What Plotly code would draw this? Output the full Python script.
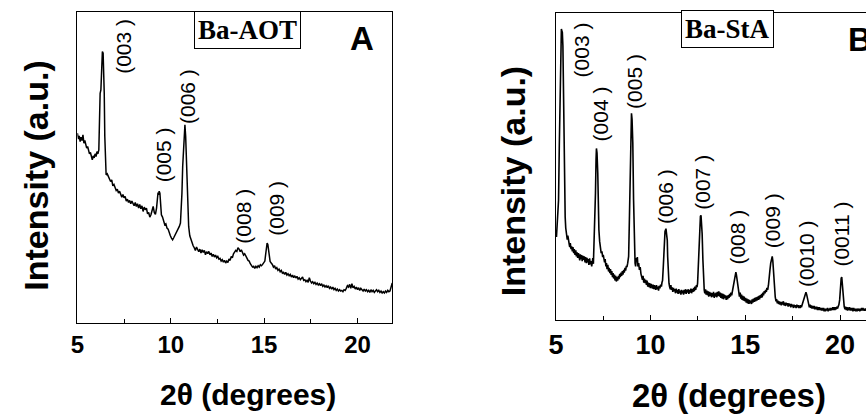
import plotly.graph_objects as go

# ---------------- Panel A: Ba-AOT (2theta, intensity a.u.) ----------------
a_points = [
    (5.00, 570), (5.06, 552), (5.10, 562), (5.15, 545), (5.20, 558), (5.25, 548), (5.30, 565),
    (5.35, 540), (5.40, 548), (5.45, 532), (5.50, 525), (5.55, 530), (5.60, 515), (5.65, 508),
    (5.70, 512), (5.75, 495), (5.80, 490), (5.85, 502), (5.90, 496), (5.95, 508), (6.00, 500),
    (6.05, 515), (6.10, 508), (6.15, 520), (6.18, 600), (6.22, 690), (6.26, 700), (6.30, 780),
    (6.34, 815), (6.38, 810), (6.41, 760), (6.44, 690), (6.47, 560), (6.50, 470), (6.54, 445),
    (6.60, 448), (6.66, 438), (6.72, 432), (6.78, 425), (6.84, 430), (6.90, 412), (6.96, 416),
    (7.02, 405), (7.08, 398), (7.14, 402), (7.20, 390), (7.26, 396), (7.32, 385), (7.38, 378),
    (7.44, 386), (7.50, 376), (7.56, 380), (7.62, 366), (7.68, 372), (7.74, 362), (7.80, 368),
    (7.86, 358), (7.92, 366), (7.98, 360), (8.04, 352), (8.10, 362), (8.16, 350), (8.22, 358),
    (8.28, 345), (8.34, 356), (8.40, 343), (8.46, 352), (8.52, 335), (8.58, 348), (8.64, 340),
    (8.70, 345), (8.76, 328), (8.82, 332), (8.88, 318), (8.94, 325), (9.00, 340), (9.06, 350),
    (9.12, 332), (9.18, 326), (9.24, 345), (9.28, 375), (9.32, 392), (9.35, 385), (9.38, 396),
    (9.42, 390), (9.46, 345), (9.50, 325), (9.56, 318), (9.62, 305), (9.68, 295), (9.74, 298),
    (9.80, 285), (9.86, 282), (9.92, 270), (9.98, 262), (10.04, 255), (10.10, 250), (10.16, 256),
    (10.22, 262), (10.28, 270), (10.34, 275), (10.40, 282), (10.46, 290), (10.52, 300),
    (10.56, 330), (10.60, 390), (10.64, 470), (10.68, 530), (10.72, 590), (10.76, 595),
    (10.80, 560), (10.84, 500), (10.88, 420), (10.92, 330), (10.96, 290), (11.02, 262),
    (11.08, 250), (11.14, 240), (11.20, 232), (11.26, 226), (11.32, 218), (11.38, 228),
    (11.44, 222), (11.50, 214), (11.56, 222), (11.62, 210), (11.68, 220), (11.74, 212),
    (11.80, 218), (11.86, 205), (11.92, 214), (11.98, 208), (12.04, 215), (12.10, 205),
    (12.16, 210), (12.22, 200), (12.28, 206), (12.34, 198), (12.40, 204), (12.46, 196),
    (12.52, 200), (12.58, 192), (12.64, 194), (12.70, 186), (12.76, 190), (12.82, 183),
    (12.88, 188), (12.94, 180), (13.00, 186), (13.06, 182), (13.12, 192), (13.18, 188),
    (13.24, 200), (13.30, 196), (13.36, 208), (13.42, 212), (13.48, 218), (13.54, 215),
    (13.60, 226), (13.66, 222), (13.72, 214), (13.78, 220), (13.84, 208), (13.90, 204),
    (13.96, 208), (14.02, 198), (14.08, 195), (14.14, 188), (14.20, 186), (14.26, 178),
    (14.32, 174), (14.38, 168), (14.44, 170), (14.50, 164), (14.56, 170), (14.62, 166),
    (14.68, 172), (14.74, 168), (14.80, 175), (14.86, 172), (14.92, 176), (14.98, 180),
    (15.04, 186), (15.08, 205), (15.12, 228), (15.16, 240), (15.20, 236), (15.24, 222),
    (15.28, 200), (15.32, 185), (15.38, 180), (15.44, 176), (15.50, 168), (15.56, 172),
    (15.62, 162), (15.68, 166), (15.74, 158), (15.80, 162), (15.86, 154), (15.92, 158),
    (15.98, 150), (16.04, 152), (16.10, 146), (16.16, 152), (16.22, 144), (16.28, 148),
    (16.34, 142), (16.40, 146), (16.46, 138), (16.52, 144), (16.58, 136), (16.64, 142),
    (16.70, 135), (16.76, 140), (16.82, 132), (16.88, 136), (16.94, 130), (17.00, 134),
    (17.06, 138), (17.12, 128), (17.18, 130), (17.24, 124), (17.30, 128), (17.36, 122),
    (17.42, 136), (17.48, 126), (17.54, 120), (17.60, 124), (17.66, 118), (17.72, 122),
    (17.78, 116), (17.84, 120), (17.90, 114), (17.96, 118), (18.02, 112), (18.08, 118),
    (18.14, 110), (18.20, 114), (18.26, 108), (18.32, 112), (18.38, 106), (18.44, 112),
    (18.50, 104), (18.56, 108), (18.62, 102), (18.68, 108), (18.74, 100), (18.80, 104),
    (18.86, 98), (18.92, 102), (18.98, 96), (19.04, 100), (19.10, 96), (19.16, 98), (19.22, 94),
    (19.28, 100), (19.34, 98), (19.40, 104), (19.46, 112), (19.52, 108), (19.58, 116),
    (19.64, 104), (19.70, 118), (19.76, 106), (19.82, 110), (19.88, 102), (19.94, 108),
    (20.00, 100), (20.06, 106), (20.12, 98), (20.18, 104), (20.24, 100), (20.30, 96),
    (20.36, 102), (20.42, 96), (20.48, 100), (20.54, 94), (20.60, 98), (20.66, 92), (20.72, 100),
    (20.78, 94), (20.84, 98), (20.90, 92), (20.96, 96), (21.02, 100), (21.08, 94), (21.14, 98),
    (21.20, 92), (21.26, 96), (21.32, 90), (21.38, 94), (21.44, 90), (21.50, 96), (21.56, 92),
    (21.62, 98), (21.68, 94), (21.74, 96), (21.80, 108), (21.86, 120),
]

a_peak_labels = ["(003 )", "(005 )", "(006 )", "(008 )", "(009 )"]
a_label_x = [7.49, 9.61, 10.93, 13.92, 15.69]
a_label_y = [832, 505, 679, 322, 343]

# ---------------- Panel B: Ba-StA ----------------
b_points = [
    (5.03, 248), (5.10, 300), (5.14, 358), (5.18, 520), (5.21, 658), (5.24, 800), (5.26, 848),
    (5.29, 870), (5.31, 866), (5.34, 860), (5.37, 820), (5.40, 640), (5.42, 538), (5.45, 400),
    (5.49, 308), (5.52, 275), (5.56, 258), (5.60, 240), (5.63, 252), (5.66, 232), (5.70, 228),
    (5.73, 218), (5.76, 230), (5.80, 212), (5.83, 220), (5.87, 205), (5.90, 218), (5.94, 200),
    (5.97, 212), (6.01, 195), (6.05, 208), (6.08, 190), (6.12, 202), (6.15, 186), (6.19, 200),
    (6.22, 190), (6.26, 178), (6.29, 196), (6.33, 182), (6.36, 194), (6.39, 176), (6.43, 192),
    (6.47, 180), (6.50, 190), (6.54, 172), (6.57, 188), (6.61, 170), (6.64, 186), (6.68, 172),
    (6.71, 182), (6.74, 165), (6.78, 184), (6.82, 166), (6.85, 176), (6.89, 160), (6.92, 172),
    (6.95, 185), (6.98, 168), (7.01, 212), (7.05, 300), (7.09, 380), (7.12, 480), (7.14, 513),
    (7.17, 500), (7.21, 440), (7.24, 330), (7.27, 270), (7.31, 235), (7.35, 218), (7.39, 200),
    (7.43, 205), (7.47, 188), (7.50, 195), (7.53, 178), (7.57, 172), (7.60, 182), (7.64, 160),
    (7.67, 170), (7.70, 152), (7.74, 165), (7.78, 145), (7.81, 156), (7.85, 140), (7.88, 152),
    (7.92, 135), (7.95, 146), (7.99, 128), (8.02, 140), (8.05, 124), (8.09, 136), (8.12, 118),
    (8.16, 132), (8.19, 115), (8.23, 128), (8.26, 118), (8.30, 132), (8.33, 122), (8.37, 138),
    (8.40, 128), (8.44, 142), (8.47, 132), (8.51, 146), (8.54, 136), (8.58, 150), (8.61, 142),
    (8.65, 156), (8.68, 148), (8.72, 162), (8.75, 158), (8.79, 170), (8.84, 190), (8.88, 300),
    (8.92, 460), (8.96, 590), (8.99, 618), (9.02, 600), (9.06, 530), (9.10, 360), (9.13, 258),
    (9.16, 190), (9.18, 170), (9.21, 160), (9.24, 185), (9.27, 176), (9.30, 188), (9.33, 160),
    (9.37, 170), (9.41, 150), (9.45, 158), (9.49, 138), (9.53, 130), (9.57, 120), (9.60, 132),
    (9.64, 112), (9.67, 124), (9.71, 110), (9.74, 120), (9.78, 105), (9.81, 118), (9.85, 100),
    (9.88, 112), (9.92, 98), (9.95, 110), (9.99, 95), (10.03, 108), (10.06, 100), (10.10, 94),
    (10.13, 106), (10.17, 92), (10.20, 104), (10.23, 95), (10.27, 90), (10.31, 104), (10.34, 92),
    (10.38, 100), (10.42, 88), (10.45, 102), (10.49, 95), (10.53, 106), (10.57, 100),
    (10.60, 112), (10.63, 118), (10.67, 160), (10.70, 210), (10.72, 240), (10.76, 265),
    (10.81, 273), (10.84, 262), (10.88, 238), (10.90, 190), (10.93, 138), (10.97, 110),
    (11.00, 100), (11.04, 92), (11.07, 104), (11.10, 90), (11.14, 98), (11.17, 84), (11.21, 96),
    (11.24, 86), (11.28, 92), (11.31, 80), (11.35, 94), (11.38, 82), (11.42, 90), (11.45, 78),
    (11.49, 92), (11.52, 80), (11.56, 88), (11.60, 76), (11.63, 90), (11.67, 80), (11.70, 88),
    (11.74, 76), (11.77, 90), (11.81, 80), (11.85, 92), (11.88, 78), (11.92, 90), (11.95, 82),
    (11.99, 92), (12.02, 78), (12.06, 90), (12.09, 82), (12.13, 94), (12.16, 80), (12.20, 92),
    (12.24, 84), (12.27, 96), (12.31, 86), (12.34, 100), (12.38, 90), (12.42, 104), (12.45, 98),
    (12.48, 110), (12.52, 160), (12.56, 240), (12.59, 285), (12.63, 310), (12.66, 313),
    (12.69, 295), (12.72, 258), (12.76, 180), (12.79, 110), (12.83, 90), (12.86, 80),
    (12.90, 92), (12.93, 76), (12.97, 88), (13.00, 74), (13.04, 86), (13.07, 70), (13.11, 84),
    (13.14, 72), (13.18, 82), (13.21, 68), (13.25, 80), (13.29, 70), (13.32, 84), (13.36, 66),
    (13.39, 80), (13.43, 70), (13.46, 82), (13.50, 68), (13.53, 84), (13.57, 72), (13.60, 86),
    (13.64, 70), (13.68, 82), (13.71, 66), (13.75, 80), (13.78, 64), (13.82, 78), (13.85, 62),
    (13.89, 76), (13.92, 66), (13.96, 74), (13.99, 60), (14.03, 72), (14.06, 62), (14.10, 74),
    (14.14, 66), (14.17, 78), (14.21, 70), (14.24, 82), (14.28, 74), (14.31, 84), (14.35, 92),
    (14.39, 110), (14.43, 128), (14.47, 140), (14.50, 143), (14.53, 135), (14.56, 120),
    (14.59, 116), (14.62, 95), (14.66, 78), (14.69, 70), (14.73, 82), (14.76, 64), (14.80, 76),
    (14.83, 60), (14.87, 72), (14.90, 58), (14.94, 70), (14.97, 56), (15.01, 66), (15.05, 52),
    (15.08, 64), (15.12, 50), (15.15, 62), (15.19, 48), (15.22, 60), (15.26, 50), (15.29, 58),
    (15.33, 48), (15.36, 62), (15.40, 52), (15.43, 64), (15.47, 54), (15.50, 66), (15.54, 56),
    (15.58, 68), (15.61, 58), (15.65, 70), (15.68, 60), (15.72, 72), (15.75, 62), (15.79, 74),
    (15.82, 66), (15.86, 78), (15.89, 68), (15.93, 82), (15.96, 74), (16.00, 86), (16.04, 80),
    (16.07, 90), (16.11, 84), (16.14, 96), (16.18, 90), (16.22, 104), (16.26, 120),
    (16.30, 150), (16.34, 170), (16.38, 185), (16.42, 190), (16.45, 178), (16.48, 150),
    (16.51, 115), (16.55, 85), (16.58, 68), (16.62, 56), (16.65, 62), (16.69, 50), (16.72, 58),
    (16.76, 48), (16.80, 56), (16.83, 46), (16.87, 54), (16.90, 44), (16.94, 54), (16.97, 46),
    (17.01, 56), (17.04, 44), (17.08, 52), (17.11, 42), (17.15, 52), (17.19, 44), (17.22, 50),
    (17.26, 40), (17.29, 50), (17.33, 42), (17.36, 48), (17.40, 38), (17.43, 48), (17.47, 40),
    (17.50, 46), (17.54, 36), (17.57, 46), (17.61, 38), (17.65, 44), (17.68, 36), (17.72, 46),
    (17.75, 38), (17.79, 44), (17.82, 36), (17.86, 44), (17.89, 36), (17.93, 44), (17.96, 38),
    (18.00, 46), (18.04, 48), (18.08, 56), (18.12, 70), (18.16, 80), (18.20, 83), (18.24, 76),
    (18.28, 66), (18.31, 52), (18.35, 46), (18.38, 38), (18.42, 46), (18.45, 36), (18.49, 44),
    (18.52, 34), (18.56, 42), (18.59, 34), (18.63, 42), (18.66, 32), (18.70, 40), (18.74, 32),
    (18.77, 40), (18.81, 30), (18.84, 38), (18.88, 30), (18.91, 38), (18.95, 30), (18.98, 36),
    (19.02, 28), (19.05, 36), (19.09, 28), (19.13, 36), (19.16, 26), (19.20, 34), (19.23, 26),
    (19.27, 34), (19.30, 28), (19.34, 36), (19.37, 26), (19.41, 34), (19.44, 28), (19.48, 36),
    (19.51, 28), (19.55, 36), (19.58, 30), (19.62, 38), (19.66, 30), (19.69, 38), (19.73, 30),
    (19.76, 38), (19.80, 32), (19.83, 40), (19.87, 34), (19.90, 40), (19.94, 46), (19.98, 60),
    (20.02, 100), (20.06, 125), (20.09, 128), (20.12, 110), (20.15, 75), (20.19, 50),
    (20.22, 40), (20.26, 32), (20.29, 40), (20.33, 30), (20.36, 38), (20.40, 28), (20.43, 38),
    (20.47, 30), (20.50, 38), (20.54, 28), (20.58, 36), (20.61, 28), (20.65, 36), (20.68, 26),
    (20.72, 36), (20.75, 28), (20.79, 34), (20.82, 26), (20.86, 34), (20.90, 26), (20.93, 34),
    (20.97, 28), (21.00, 34), (21.04, 26), (21.07, 34), (21.11, 28), (21.14, 36), (21.18, 28),
    (21.21, 36), (21.25, 28), (21.29, 34), (21.32, 28), (21.36, 34), (21.40, 30),
]

b_peak_labels = ["(003 )", "(004 )", "(005 )", "(006 )", "(007 )", "(008 )", "(009 )", "(0010 )", "(0011 )"]
b_label_x = [6.36, 7.35, 9.18, 10.75, 12.74, 14.57, 16.40, 18.23, 20.06]
b_label_y = [808, 616, 712, 370, 412, 247, 298, 199, 256]

x_tick_vals = [5, 10, 15, 20]
x_tick_text = ["5", "10", "15", "20"]

W, H = 866, 414
SANS = "Liberation Sans, Arial, sans-serif"
SERIF = "Liberation Serif, Times New Roman, serif"

ax, ay = zip(*a_points)
bx, by = zip(*b_points)

fig = go.Figure()
fig.add_trace(go.Scatter(x=ax, y=ay, mode="lines", line=dict(color="black", width=1.5),
                         xaxis="x", yaxis="y", showlegend=False, hoverinfo="skip"))
fig.add_trace(go.Scatter(x=bx, y=by, mode="lines", line=dict(color="black", width=1.6),
                         xaxis="x2", yaxis="y2", showlegend=False, hoverinfo="skip"))


def xaxis_cfg(domain, rng, size, anchor):
    return dict(domain=domain, range=rng, anchor=anchor, showgrid=False, zeroline=False,
                showline=True, linecolor="black", linewidth=1.3, mirror=True,
                tickvals=x_tick_vals, ticktext=x_tick_text, ticks="inside", ticklen=5,
                tickcolor="black", ticklabelstandoff=0,
                minor=dict(ticks="inside", dtick=2.5, ticklen=4, tickcolor="black"),
                tickfont=dict(family=SANS, size=size, color="black", weight="bold"))


def yaxis_cfg(domain, rng, anchor, mirror):
    return dict(domain=domain, range=rng, anchor=anchor, showgrid=False, zeroline=False,
                showline=True, linecolor="black", linewidth=1.3, mirror=mirror,
                showticklabels=False, ticks="")


fig.update_layout(
    width=W, height=H, margin=dict(l=0, r=0, t=0, b=0),
    paper_bgcolor="white", plot_bgcolor="white",
    xaxis=xaxis_cfg([70 / W, 388 / W], [5, 21.87], 24, "y"),
    yaxis=yaxis_cfg([1 - 323 / H, 1 - 12 / H], [0, 934], "x", True),
    xaxis2=xaxis_cfg([553 / W, 1.0], [5, 21.37], 27, "y2"),
    yaxis2=yaxis_cfg([1 - 320 / H, 1 - 13 / H], [0, 918], "x2", False),
)


def paper_text(text, px, py, size, family=SANS, angle=0, xanchor="center", **kw):
    return dict(text=text, x=px / W, y=1 - py / H, xref="paper", yref="paper",
                xanchor=xanchor, yanchor="middle", showarrow=False, textangle=angle,
                font=dict(family=family, size=size, color="black", weight="bold"), **kw)


ann = []
for t, x, y in zip(a_peak_labels, a_label_x, a_label_y):
    ann.append(dict(text=t, x=x, y=y, xref="x", yref="y", showarrow=False, textangle=-90,
                    xanchor="center", yanchor="middle",
                    font=dict(family=SANS, size=21, color="black")))
for t, x, y in zip(b_peak_labels, b_label_x, b_label_y):
    ann.append(dict(text=t, x=x, y=y, xref="x2", yref="y2", showarrow=False, textangle=-90,
                    xanchor="center", yanchor="middle",
                    font=dict(family=SANS, size=21, color="black")))

# sample boxes
ann.append(paper_text("Ba-AOT", 242, 30, 27, family=SERIF,
                      bordercolor="black", borderwidth=1, borderpad=3, bgcolor="white"))
ann.append(paper_text("Ba-StA", 726, 29.5, 27, family=SERIF,
                      bordercolor="black", borderwidth=1, borderpad=3, bgcolor="white"))
# panel letters
ann.append(paper_text("A", 357, 39, 33))
ann.append(paper_text("B", 846, 40, 33, xanchor="left"))
# axis titles
ann.append(paper_text("2θ (degrees)", 242, 394, 30))
ann.append(paper_text("2θ (degrees)", 728, 395, 33))
ann.append(paper_text("Intensity (a.u.)", 28, 176, 34, angle=-90))
ann.append(paper_text("Intensity (a.u.)", 510, 181, 34, angle=-90))

fig.update_layout(annotations=ann)
fig.write_html("out.html", config={"displayModeBar": False})
